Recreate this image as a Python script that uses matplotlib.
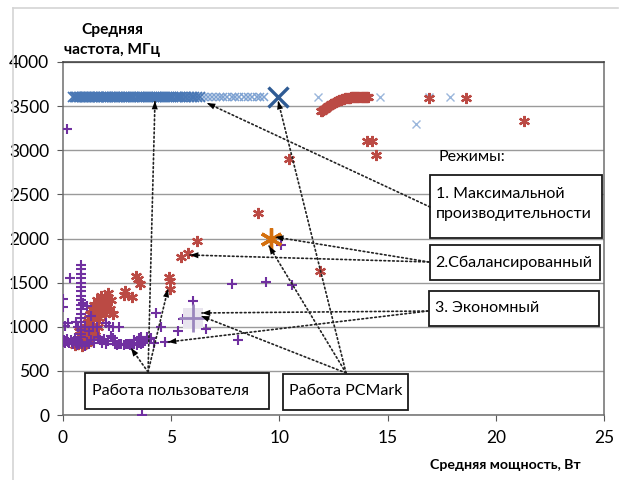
import matplotlib
matplotlib.use("Agg")
import matplotlib.pyplot as plt
from matplotlib.patches import Rectangle
from matplotlib.lines import Line2D

plt.rcParams['font.family'] = ['Lato', 'DejaVu Sans']

# ---------------- data ----------------
xlim = [0, 25]
ylim = [0, 4000]
x_ticks = [0, 5, 10, 15, 20, 25]
y_ticks = [0, 500, 1000, 1500, 2000, 2500, 3000, 3500, 4000]

# Mode 1: maximum performance (blue x)
max_x = [0.48, 0.55, 0.6, 0.66, 0.72, 0.8, 0.86, 0.93, 1.0, 1.05, 1.12, 1.2, 1.27, 1.33, 1.4,
         1.48, 1.55, 1.6, 1.68, 1.75, 1.83, 1.9, 1.97, 2.05, 2.1, 2.18, 2.26, 2.35, 2.4, 2.5,
         2.57, 2.65, 2.72, 2.8, 2.9, 2.96, 3.05, 3.15, 3.22, 3.3, 3.4, 3.5, 3.58, 3.65, 3.75,
         3.85, 3.92, 4.0, 4.1, 4.2, 4.28, 4.35, 4.45, 4.55, 4.62, 4.7, 4.8, 4.9, 5.0, 5.1,
         5.2, 5.3, 5.4, 5.5, 5.62, 5.7, 5.8, 5.95, 6.05, 6.2, 6.35]
max_y = [3600] * len(max_x)
max_mid_x = [6.5, 6.7, 6.9, 7.05, 7.25, 7.4, 7.6, 7.8, 7.95, 8.15, 8.35, 8.55, 8.75, 8.95,
             9.1, 9.3]
max_mid_y = [3600] * len(max_mid_x)
max_light_x = [11.8, 14.65, 16.9, 17.9, 16.3]
max_light_y = [3600, 3600, 3600, 3600, 3300]

# Mode 2: balanced (red asterisks)
bal_x = [0.55, 0.65, 0.7, 0.8, 0.85, 0.9, 0.95, 1.0, 1.0, 1.05, 1.1, 1.15, 1.2, 1.2, 1.25,
         1.3, 1.35, 1.4, 1.45, 1.5, 1.55, 1.6, 1.65, 1.7, 1.75, 1.8, 1.85, 1.9, 1.95, 2.0,
         2.05, 2.1, 2.15, 2.2, 2.3, 1.3, 1.5, 1.1, 0.75, 1.6,
         2.82, 2.87, 3.19, 3.37, 3.47, 3.56, 4.9, 4.94, 4.94, 5.45, 5.76, 6.2, 9.0, 10.44,
         11.88, 14.05, 14.3, 14.45, 16.9, 18.6, 21.3,
         11.9, 11.95, 12.0, 12.05, 12.1, 12.15, 12.2, 12.25, 12.3, 12.35, 12.4, 12.45, 12.5,
         12.55, 12.6, 12.65, 12.7, 12.75, 12.8, 12.85, 12.9, 12.95, 13.0, 13.05, 13.1, 13.15,
         13.2, 13.25, 13.3, 13.35, 13.4, 13.45, 13.5, 13.55, 13.6, 13.65, 13.7, 13.75, 13.8,
         13.85, 13.9, 13.95, 14.0, 14.05, 14.1]
bal_y = [790, 820, 800, 850, 900, 780, 830, 870, 950, 1000, 900, 1050, 980, 1100, 1150,
         1050, 1200, 1100, 1250, 1150, 1300, 1200, 1100, 1250, 1350, 1180, 1300, 1230, 1150, 1330,
         1250, 1380, 1200, 1300, 1150, 900, 950, 820, 950, 1000,
         1360, 1405, 1335, 1575, 1540, 1485, 1565, 1520, 1425, 1790, 1835, 1970, 2290, 2900,
         1630, 3100, 3100, 2945, 3590, 3590, 3330,
         3440, 3448, 3456, 3464, 3472, 3480, 3488, 3496, 3504, 3512, 3520, 3527, 3535,
         3542, 3550, 3555, 3560, 3565, 3570, 3574, 3578, 3582, 3585, 3588, 3590, 3592,
         3595, 3596, 3598, 3599, 3600, 3600, 3600, 3600, 3600, 3600, 3600, 3600, 3600,
         3600, 3600, 3600, 3600, 3600, 3600]

# Mode 3: economy (purple +)
eco_x = [0.0, 0.05, 0.1, 0.15, 0.2, 0.25, 0.3, 0.35, 0.4, 0.45, 0.5, 0.55, 0.6, 0.65, 0.7, 0.75, 0.8,
         0.82, 0.84, 0.82, 0.85, 0.83, 0.84, 0.82, 0.85, 0.83, 0.84, 0.82, 0.85, 0.83, 0.84, 0.82,
         0.85, 0.83, 0.84,
         0.9, 1.0, 1.1, 1.2, 1.3, 1.45, 1.6, 1.7, 1.8, 1.9, 2.0, 2.1, 2.2, 2.3, 2.4, 2.5, 2.6,
         2.7, 2.8, 2.9, 3.0, 3.1, 3.2, 3.3, 3.4, 3.5, 3.6, 3.7, 3.8, 3.9, 4.0, 4.07, 4.2, 3.3,
         3.5, 3.6,
         0.0, 0.0, 0.1, 0.25, 0.32, 0.93, 1.1, 1.0, 1.2, 1.4, 1.57, 2.0, 2.13, 2.3, 2.6, 1.3,
         0.6, 0.7,
         0.2, 3.66, 4.3, 4.53, 5.3, 4.7, 5.55, 6.0, 6.6, 7.8, 9.38, 8.1, 10.07, 10.6]
eco_y = [830, 850, 820, 840, 860, 830, 815, 845, 825, 800, 835, 870, 820, 790, 840, 810, 830,
         880, 920, 960, 1000, 1050, 1100, 1150, 1200, 1250, 1300, 1350, 1400, 1450, 1500, 1550,
         1600, 1650, 1700,
         800, 780, 830, 800, 850, 820, 880, 850, 820, 860, 805, 840, 900, 870, 800, 790, 810,
         800, 790, 805, 800, 795, 810, 800, 790, 815, 800, 820, 840, 885, 860, 870, 820, 850,
         870, 880,
         1315, 1225, 1010, 1040, 1555, 1270, 1235, 1000, 950, 1000, 1000, 1040, 1010, 1000, 1000, 1120,
         1050, 1000,
         3240, 0, 1160, 1000, 950, 825, 1090, 1290, 975, 1485, 1510, 850, 1925, 1475]

# PCMark runs (large markers)
pc_max = (9.93, 3600)
pc_bal = (9.6, 1995)
pc_eco = (6.0, 1100)

# annotation labels
lbl_modes = "Режимы:"
lbl_box1 = "1. Максимальной\nпроизводительности"
lbl_box2 = "2.Сбалансированный"
lbl_box3 = "3. Экономный"
lbl_user = "Работа пользователя"
lbl_pc = "Работа PCMark"
y_title = "Средняя\nчастота, МГц"
x_title = "Средняя мощность, Вт"

# arrows: (start, [targets])
arrows = [
    ((3.93, 487), [(4.25, 3558), (4.85, 1428), (3.14, 759)]),
    ((13.08, 476), [(9.94, 3558), (9.52, 1915), (6.38, 1122)]),
    ((16.96, 2357), [(6.65, 3535)]),
    ((16.91, 1734), [(9.8, 2017), (5.87, 1813)]),
    ((16.87, 1178), [(6.42, 1156), (4.85, 827)]),
]

# boxes: (x0, y0, x1, y1) in data units
boxes = [
    (16.96, 2005, 24.92, 2720),
    (16.96, 1530, 24.82, 1926),
    (16.92, 1008, 24.77, 1405),
    (1.02, 66, 9.52, 476),
    (10.17, 58, 15.94, 465),
]

# ---------------- figure ----------------
W, H = 620, 480
fig = plt.figure(figsize=(W / 100, H / 100), dpi=100)
fig.patch.set_facecolor('white')
ax = fig.add_axes([63 / W, 1 - 415 / H, (604 - 63) / W, (415 - 62) / H])
ax.set_xlim(xlim)
ax.set_ylim(ylim)
ax.set_xticks(x_ticks)
ax.set_yticks(y_ticks)
ax.tick_params(axis='both', labelsize=12.5, colors='#595959', labelcolor='black', length=4,
               direction='out')
ax.tick_params(axis='x', pad=7)
ax.tick_params(axis='y', pad=6)
for s in ax.spines.values():
    s.set_color('#6e6e6e')
    s.set_linewidth(1.1)
ax.spines['top'].set_color('#3a3a3a')
ax.yaxis.grid(True, color='#9a9a9a', linewidth=1)
ax.set_axisbelow(True)

# scatter series
ax.plot(max_light_x, max_light_y, ls='none', marker='x', ms=5.5, mew=1.0, color='#9bb7dc', zorder=3)
ax.plot(max_mid_x, max_mid_y, ls='none', marker='x', ms=6, mew=1.1, color='#7ea2d2', zorder=3)
ax.plot(max_x, max_y, ls='none', marker='x', ms=6.5, mew=1.3, color='#4a78b5', zorder=3)
ax.plot(bal_x, bal_y, ls='none', marker=(6, 2, 0), ms=8, mew=1.6, color='#bb4a44', zorder=4)
ax.plot(eco_x, eco_y, ls='none', marker='+', ms=7.5, mew=1.5, color='#7030a0', zorder=5)

ax.plot(*pc_max, marker='x', ms=14, mew=2.4, color='#2f5b94', zorder=6)
ax.plot(*pc_bal, marker=(6, 2, 0), ms=16, mew=2.4, color='#d4700f', zorder=6)
ax.plot(*pc_eco, marker='s', ms=14, color='#e8e4ee', mew=0, zorder=5)
ax.plot(*pc_eco, marker='+', ms=20, mew=2.0, color='#9a86bd', zorder=6)

# boxes
for (x0, y0, x1, y1) in boxes:
    ax.add_patch(Rectangle((x0, y0), x1 - x0, y1 - y0, facecolor='white',
                           edgecolor='#1a1a1a', linewidth=1.3, zorder=7))

# arrows
for start, targets in arrows:
    for t in targets:
        ax.annotate('', xy=t, xytext=start,
                    arrowprops=dict(arrowstyle='-', linestyle=(0, (1.0, 1.6)), linewidth=1.2,
                                    color='#222222', shrinkA=0, shrinkB=0),
                    zorder=8)
        ax.annotate('', xy=t, xytext=start,
                    arrowprops=dict(arrowstyle='-|>,head_length=0.6,head_width=0.22',
                                    linewidth=0.0, color='black', fc='black',
                                    shrinkA=0, shrinkB=0),
                    zorder=8)

# texts
fs = 11.5
ax.text(17.33, 2923, lbl_modes, fontsize=fs, va='center', ha='left', zorder=9)
ax.text(17.25, 2390, lbl_box1, fontsize=fs, va='center', ha='left', linespacing=1.55, zorder=9)
ax.text(17.2, 1728, lbl_box2, fontsize=fs, va='center', ha='left', zorder=9)
ax.text(17.2, 1216, lbl_box3, fontsize=fs, va='center', ha='left', zorder=9)
ax.text(1.35, 272, lbl_user, fontsize=fs, va='center', ha='left', zorder=9)
ax.text(10.45, 272, lbl_pc, fontsize=fs, va='center', ha='left', zorder=9)

fig.text(112 / W, 1 - 40 / H, y_title, fontsize=11.2, fontweight='bold', ha='center',
         va='center', linespacing=1.6)
fig.text(505 / W, 1 - 465 / H, x_title, fontsize=10.2, fontweight='bold', ha='center',
         va='center')

# outer light frame
fig.add_artist(Line2D([13 / W, 13 / W], [0, 1 - 8 / H], transform=fig.transFigure,
                      color='#d4d4d4', linewidth=1.2))
fig.add_artist(Line2D([13 / W, 618 / W], [1 - 8 / H, 1 - 8 / H], transform=fig.transFigure,
                      color='#d4d4d4', linewidth=1.2))

fig.savefig('out.png', dpi=100)
